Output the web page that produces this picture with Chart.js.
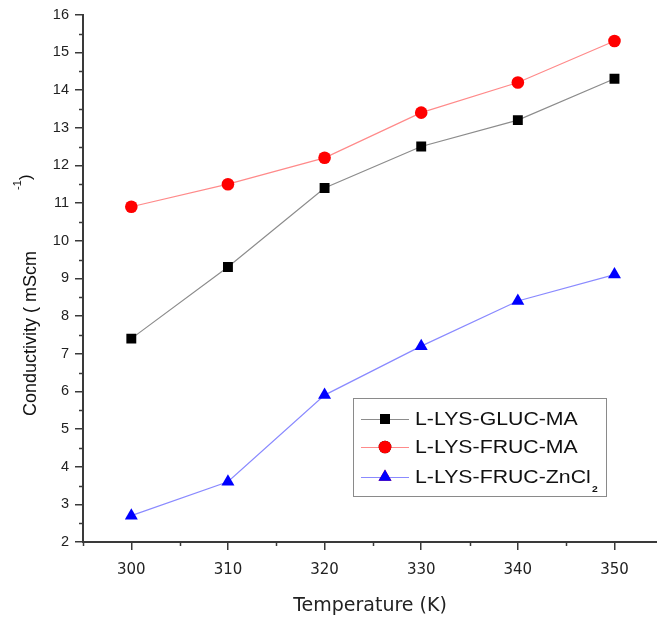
<!DOCTYPE html>
<html>
<head>
<meta charset="utf-8">
<script src="https://cdn.jsdelivr.net/npm/chart.js@4/dist/chart.umd.min.js"></script>
<style>
html,body{margin:0;padding:0;background:#fff;overflow:hidden;width:657px;height:621px;}
canvas{display:block;}
</style>
</head>
<body>
<canvas id="c" width="657" height="621"></canvas>
<script>
const temperatures = [300, 310, 320, 330, 340, 350];
const glucMA = [7.4, 9.3, 11.4, 12.5, 13.2, 14.3];
const frucMA = [10.9, 11.5, 12.2, 13.4, 14.2, 15.3];
const frucZnCl2 = [2.7, 3.6, 5.9, 7.2, 8.4, 9.1];
const xMajorTicks = [300, 310, 320, 330, 340, 350];
const xMinorTicks = [295, 305, 315, 325, 335, 345];
const yMajorTicks = [2,3,4,5,6,7,8,9,10,11,12,13,14,15,16];
const yMinorTicks = [2.5,3.5,4.5,5.5,6.5,7.5,8.5,9.5,10.5,11.5,12.5,13.5,14.5,15.5];
const seriesNames = ['L-LYS-GLUC-MA', 'L-LYS-FRUC-MA', 'L-LYS-FRUC-ZnCl'];

const toPts = arr => temperatures.map((t, i) => ({x: t, y: arr[i]}));
const AXIS = '#3a3a3a';
const SANS = '"Liberation Sans", Arial, sans-serif';

const customDraw = {
  id: 'customDraw',
  afterDraw(chart) {
    const ctx = chart.ctx;
    const xs = chart.scales.x, ys = chart.scales.y;
    const ca = chart.chartArea;
    ctx.save();
    ctx.strokeStyle = AXIS;
    ctx.lineWidth = 1.5;
    // minor ticks
    xMinorTicks.forEach(v => {
      const px = Math.round(xs.getPixelForValue(v)) + 0.5;
      ctx.beginPath(); ctx.moveTo(px, ca.bottom); ctx.lineTo(px, ca.bottom + 4); ctx.stroke();
    });
    yMinorTicks.forEach(v => {
      const py = Math.round(ys.getPixelForValue(v)) + 0.5;
      ctx.beginPath(); ctx.moveTo(ca.left, py); ctx.lineTo(ca.left - 4, py); ctx.stroke();
    });
    // Y axis title
    ctx.fillStyle = '#111';
    ctx.font = '18px ' + SANS;
    ctx.translate(36, 416);
    ctx.rotate(-Math.PI / 2);
    ctx.textAlign = 'left';
    ctx.textBaseline = 'alphabetic';
    ctx.fillText('Conductivity ( mScm', 0, 0);
    ctx.font = '11px ' + SANS;
    ctx.fillText('-1', 226, -15);
    ctx.font = '17px ' + SANS;
    ctx.fillText(')', 236, -5);
    ctx.restore();

    // legend
    ctx.save();
    const bx = 353, by = 398, bw = 253, bh = 98;
    ctx.strokeStyle = '#8a8a8a';
    ctx.lineWidth = 1;
    ctx.strokeRect(bx + 0.5, by + 0.5, bw, bh);
    const rows = [419, 447, 477];
    chart.data.datasets.forEach((ds, i) => {
      const y = rows[i];
      ctx.strokeStyle = ds.borderColor;
      ctx.lineWidth = 1;
      ctx.beginPath(); ctx.moveTo(361, y + 0.5); ctx.lineTo(409, y + 0.5); ctx.stroke();
      Chart.helpers.drawPoint(ctx, {pointStyle: ds.pointStyle, radius: ds.pointRadius, borderWidth: 0}, 385, y);
      ctx.fillStyle = ds.pointBackgroundColor;
      ctx.fill();
      ctx.save();
      ctx.translate(415, y + 1);
      ctx.scale(1.15, 1);
      ctx.fillStyle = '#111';
      ctx.font = '18.5px ' + SANS;
      ctx.textAlign = 'left';
      ctx.textBaseline = 'middle';
      ctx.fillText(seriesNames[i], 0, 0);
      if (i === 2) {
        const w = ctx.measureText(seriesNames[i]).width;
        ctx.font = 'bold 9px ' + SANS;
        ctx.fillText('2', w + 1, 12);
      }
      ctx.restore();
    });
    ctx.restore();
  }
};

new Chart(document.getElementById('c'), {
  type: 'line',
  data: {
    datasets: [
      {label: seriesNames[0], data: toPts(glucMA), borderColor: '#8c8c8c', borderWidth: 1.2,
       pointStyle: 'rect', pointRadius: 7, pointBackgroundColor: '#000', pointBorderColor: '#000', pointBorderWidth: 0},
      {label: seriesNames[1], data: toPts(frucMA), borderColor: '#ff8a8a', borderWidth: 1.2,
       pointStyle: 'circle', pointRadius: 6.3, pointBackgroundColor: '#ff0000', pointBorderColor: '#ff0000', pointBorderWidth: 0},
      {label: seriesNames[2] + '2', data: toPts(frucZnCl2), borderColor: '#8a8aff', borderWidth: 1.2,
       pointStyle: 'triangle', pointRadius: 7.5, pointBackgroundColor: '#0000ff', pointBorderColor: '#0000ff', pointBorderWidth: 0}
    ]
  },
  options: {
    responsive: false,
    animation: false,
    devicePixelRatio: 1,
    layout: {autoPadding: false, padding: {top: 13, right: 0, left: 0, bottom: 0}},
    plugins: {legend: {display: false}, tooltip: {enabled: false}},
    scales: {
      x: {
        type: 'linear', min: 295, max: 354.4,
        afterBuildTicks: s => { s.ticks = xMajorTicks.map(v => ({value: v})); },
        afterFit: s => { s.height = 79; },
        border: {color: AXIS, width: 2},
        grid: {drawOnChartArea: false, tickLength: 8, color: AXIS, lineWidth: 1.5},
        ticks: {color: '#222', font: {family: '"DejaVu Sans", sans-serif', size: 15}, padding: 11, maxRotation: 0},
        title: {display: true, text: 'Temperature (K)', color: '#222', font: {family: '"DejaVu Sans", sans-serif', size: 19}, padding: {top: 11}}
      },
      y: {
        type: 'linear', min: 2, max: 16,
        afterBuildTicks: s => { s.ticks = yMajorTicks.map(v => ({value: v})); },
        afterFit: s => { s.width = 83; },
        border: {color: AXIS, width: 2},
        grid: {drawOnChartArea: false, tickLength: 8, color: AXIS, lineWidth: 1.5},
        ticks: {color: '#222', font: {family: SANS, size: 14.5}, padding: 6}
      }
    }
  },
  plugins: [customDraw]
});
</script>
</body>
</html>
